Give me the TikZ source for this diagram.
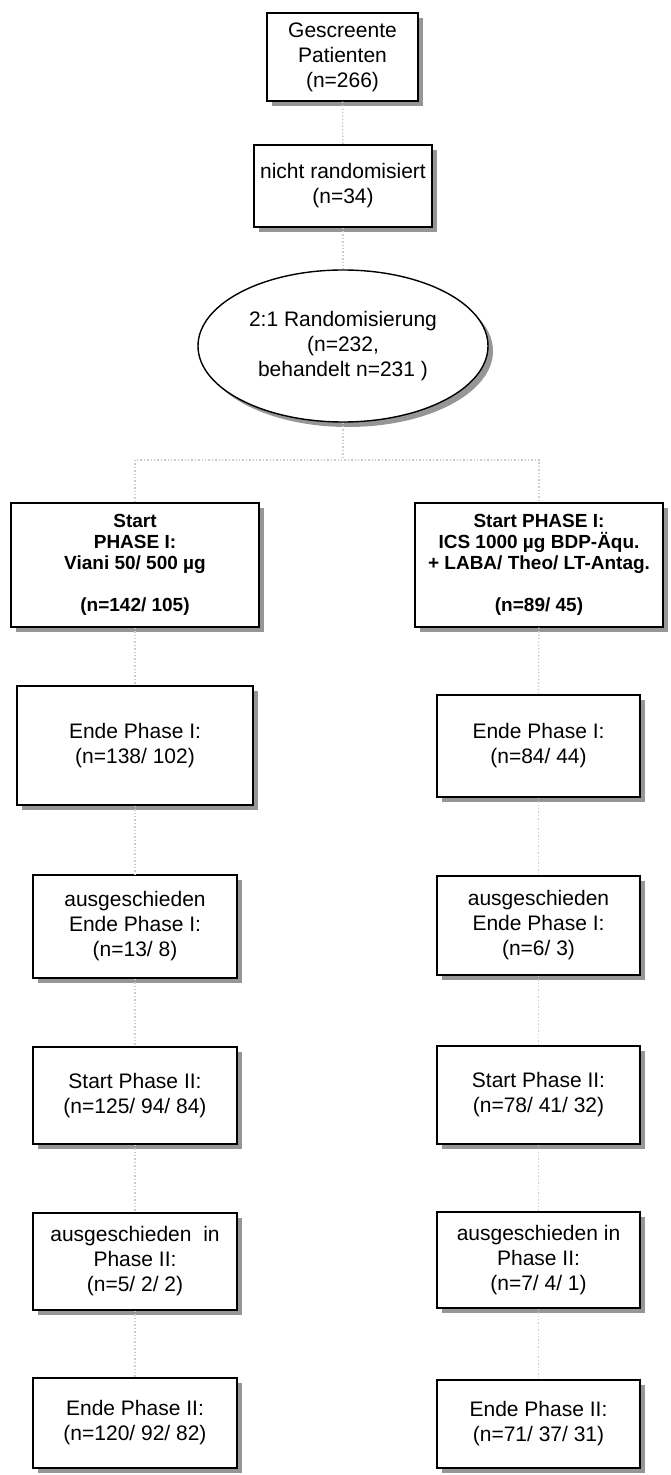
\documentclass[tikz,border=0pt]{standalone}
\usepackage{fontspec}
\setmainfont{Liberation Sans}
\usepackage{tikz}
\usetikzlibrary{shapes.geometric,shadows}
\definecolor{shadowgr}{RGB}{150,150,150}
\definecolor{linkgr}{RGB}{205,205,205}

\begin{document}
\begin{tikzpicture}[x=0.5pt, y=-0.5pt,
    box/.style={draw=black, line width=0.7pt, fill=white, align=center, inner sep=0pt,
      font=\fontsize{10.5}{12.5}\selectfont,
      drop shadow={shadow xshift=2.5pt, shadow yshift=-2.5pt, fill=shadowgr, opacity=1}},
    startbox/.style={box, font=\bfseries\fontsize{9.5}{10.5}\selectfont},
    oval/.style={box, ellipse},
    link/.style={linkgr, line width=0.7pt, densely dotted}]
    \useasboundingbox (0,0) rectangle (670,1475);

    % Screening
    \node[box, minimum width=75.5pt, minimum height=44pt] (scr) at (342.5,57)
      {Gescreente\\Patienten\\(n=266)};
    \node[box, minimum width=89pt, minimum height=41pt] (nrand) at (343,186)
      {nicht randomisiert\\(n=34)};
    \node[oval, minimum width=145pt, minimum height=76pt] (rand) at (343,346)
      {2:1 Randomisierung\\(n=232,\\behandelt n=231 )};
    \coordinate (split) at (343,460);

    % Phase I
    \node[startbox, minimum width=124pt, minimum height=62pt] (startA) at (135,565)
      {Start\\PHASE I:\\Viani 50/ 500 µg\\[10.5pt](n=142/ 105)};
    \node[startbox, minimum width=124pt, minimum height=62pt] (startB) at (539,565)
      {Start PHASE I:\\ICS 1000 µg BDP-Äqu.\\+ LABA/ Theo/ LT-Antag.\\[10.5pt](n=89/ 45)};
    \node[box, minimum width=118pt, minimum height=59.5pt] (endIA) at (135,745.5)
      {Ende Phase I:\\(n=138/ 102)};
    \node[box, minimum width=101.5pt, minimum height=51pt] (endIB) at (538.5,746)
      {Ende Phase I:\\(n=84/ 44)};
    \node[box, minimum width=102pt, minimum height=51.5pt] (outIA) at (135,926.5)
      {ausgeschieden\\Ende Phase I:\\(n=13/ 8)};
    \node[box, minimum width=101.5pt, minimum height=49.5pt] (outIB) at (538.5,925.5)
      {ausgeschieden\\Ende Phase I:\\(n=6/ 3)};

    % Phase II
    \node[box, minimum width=102pt, minimum height=48.5pt] (startIIA) at (135,1095.5)
      {Start Phase II:\\(n=125/ 94/ 84)};
    \node[box, minimum width=101.5pt, minimum height=49pt] (startIIB) at (538.5,1095)
      {Start Phase II:\\(n=78/ 41/ 32)};
    \node[box, minimum width=102pt, minimum height=48.5pt] (outIIA) at (135,1261.5)
      {ausgeschieden\ \ in\\Phase II:\\(n=5/ 2/ 2)};
    \node[box, minimum width=101.5pt, minimum height=48pt] (outIIB) at (538.5,1260)
      {ausgeschieden in\\Phase II:\\(n=7/ 4/ 1)};
    \node[box, minimum width=102pt, minimum height=45pt] (endIIA) at (135,1423)
      {Ende Phase II:\\(n=120/ 92/ 82)};
    \node[box, minimum width=101.5pt, minimum height=44pt] (endIIB) at (538.5,1424)
      {Ende Phase II:\\(n=71/ 37/ 31)};

    % Connectors
    \draw[link] (scr) -- (nrand);
    \draw[link] (nrand) -- (rand);
    \draw[link] (rand) -- (split);
    \draw[link] (startA.north) |- (split) -| (startB.north);
    \foreach \from/\to in {startA/endIA, endIA/outIA, outIA/startIIA, startIIA/outIIA, outIIA/endIIA,
                           startB/endIB, endIB/outIB, outIB/startIIB, startIIB/outIIB, outIIB/endIIB}
      \draw[link] (\from) -- (\to);
  \end{tikzpicture}
\end{document}
